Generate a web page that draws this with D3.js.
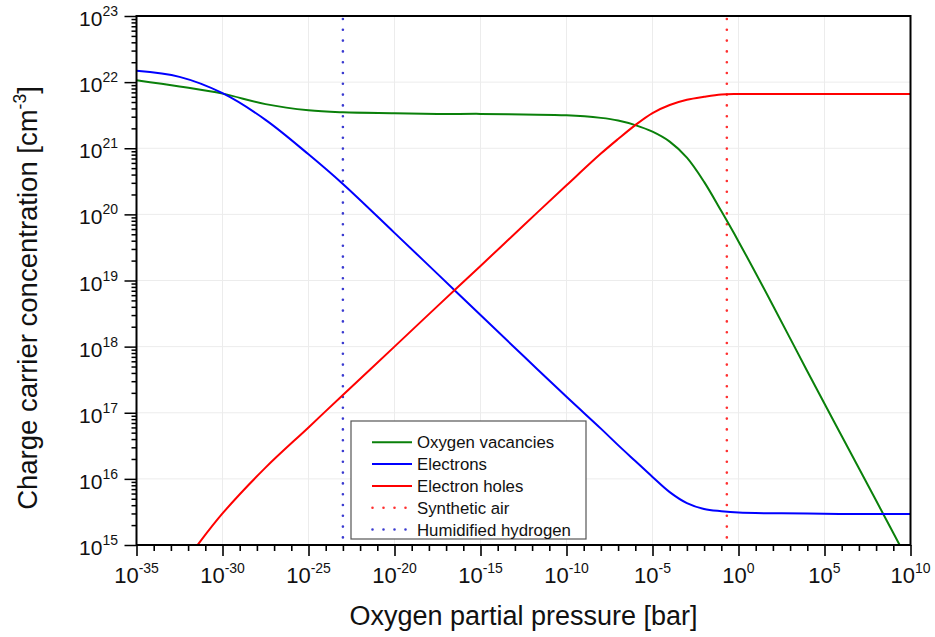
<!DOCTYPE html>
<html>
<head>
<meta charset="utf-8">
<script src="https://cdn.jsdelivr.net/npm/d3@7"></script>
<style>
  html, body { margin: 0; padding: 0; background: #fff; }
  svg { display: block; font-family: "Liberation Sans", Arial, Helvetica, sans-serif; }
</style>
</head>
<body>
<svg id="chart" width="935" height="637"></svg>
<script>
// Oxygen partial pressure grid, as base-10 exponents (bar)
const pO2Exponents = [-35, -32.5, -30, -27.5, -25, -23, -20, -17.5, -15, -12.5, -10, -8, -7, -6, -5, -4, -3, -2, -1, 0, 2, 4, 6, 8, 10];

// Defect concentrations in cm^-3 at each pO2 point
const oxygenVacancies = [1.07e22, 8.6e21, 6.7e21, 4.65e21, 3.75e21, 3.5e21, 3.39e21, 3.31e21, 3.31e21, 3.24e21, 3.16e21, 2.88e21, 2.63e21, 2.24e21, 1.78e21, 1.26e21, 7.2e20, 3.1e20, 1.12e20, 3.9e19, 4.2e18, 4.25e17, 4.45e16, 4.7e15, 4.9e14];
const electrons       = [1.48e22, 1.2e22, 6.8e21, 2.69e21, 8.1e20, 2.88e20, 5.25e19, 1.26e19, 3.0e18, 7.2e17, 1.74e17, 5.75e16, 3.24e16, 1.86e16, 1.07e16, 6.3e15, 4.3e15, 3.5e15, 3.24e15, 3.09e15, 3.02e15, 2.99e15, 2.95e15, 2.95e15, 2.95e15];
const electronHoles   = [7.9e13, 4.5e14, 3.0e15, 1.48e16, 6.0e16, 1.86e17, 1.0e18, 4.1e18, 1.66e19, 6.8e19, 2.75e20, 8.3e20, 1.38e21, 2.24e21, 3.4e21, 4.5e21, 5.4e21, 6.0e21, 6.5e21, 6.6e21, 6.6e21, 6.6e21, 6.6e21, 6.6e21, 6.6e21];

// Reference atmospheres (bar)
const syntheticAirPO2 = 0.21;
const humidHydrogenPO2 = 1e-23;

// Axis tick exponents
const xTickExponents = d3.range(-35, 11, 1);      // one tick per decade
const xLabelExponents = d3.range(-35, 11, 5);     // labelled every 5 decades
const yLabelExponents = d3.range(15, 24, 1);

const seriesInfo = [
  { name: "Oxygen vacancies", values: oxygenVacancies, color: "#0a800a" },
  { name: "Electrons",        values: electrons,       color: "#0000ff" },
  { name: "Electron holes",   values: electronHoles,   color: "#ff0000" }
];
const refLines = [
  { name: "Synthetic air",        p: syntheticAirPO2,  color: "#ff3030" },
  { name: "Humidified hydrogen",  p: humidHydrogenPO2, color: "#3a3ad0" }
];

const svg = d3.select("#chart");
const plot = { left: 136.5, right: 910.5, top: 16, bottom: 545 };

const x = d3.scaleLog().domain([1e-35, 1e10]).range([plot.left, plot.right]);
const y = d3.scaleLog().domain([1e15, 1e23]).range([plot.bottom, plot.top]);

// Grid lines
const grid = svg.append("g").attr("stroke", "#ececec").attr("stroke-width", 1);
xLabelExponents.slice(1, -1).forEach(e => {
  grid.append("line").attr("x1", x(Math.pow(10, e))).attr("x2", x(Math.pow(10, e)))
    .attr("y1", plot.top).attr("y2", plot.bottom);
});
yLabelExponents.slice(1, -1).forEach(e => {
  grid.append("line").attr("x1", plot.left).attr("x2", plot.right)
    .attr("y1", y(Math.pow(10, e))).attr("y2", y(Math.pow(10, e)));
});

// Clip for the data
svg.append("clipPath").attr("id", "plotClip").append("rect")
  .attr("x", plot.left).attr("y", plot.top)
  .attr("width", plot.right - plot.left).attr("height", plot.bottom - plot.top);

const dataG = svg.append("g").attr("clip-path", "url(#plotClip)");

// Reference pO2 lines (dotted)
refLines.forEach(r => {
  dataG.append("line")
    .attr("x1", x(r.p)).attr("x2", x(r.p))
    .attr("y1", plot.top + 3).attr("y2", plot.bottom)
    .attr("stroke", r.color).attr("stroke-width", 2.6)
    .attr("stroke-linecap", "round")
    .attr("stroke-dasharray", "0 10.8");
});

// Concentration curves
const line = d3.line()
  .x(d => x(Math.pow(10, d[0])))
  .y(d => y(d[1]))
  .curve(d3.curveCatmullRom.alpha(0.5));

seriesInfo.forEach(s => {
  const pts = pO2Exponents.map((e, i) => [e, s.values[i]]);
  dataG.append("path").datum(pts)
    .attr("d", line)
    .attr("fill", "none")
    .attr("stroke", s.color)
    .attr("stroke-width", 2);
});

// Axes
const xAxis = d3.axisBottom(x)
  .tickValues(xTickExponents.map(e => Math.pow(10, e)))
  .tickFormat("")
  .tickSizeOuter(0);
const xAxisG = svg.append("g").attr("transform", `translate(0,${plot.bottom})`).call(xAxis);
xAxisG.select(".domain").remove();
xAxisG.selectAll(".tick line")
  .attr("stroke", "#000").attr("stroke-width", 1.6)
  .attr("y2", (d) => (Math.round(Math.log10(d)) % 5 === 0 ? 11 : 6));

const yMinor = [];
d3.range(15, 23).forEach(e => { for (let k = 2; k <= 9; k++) yMinor.push(k * Math.pow(10, e)); });
const yAxisMajor = d3.axisLeft(y)
  .tickValues(yLabelExponents.map(e => Math.pow(10, e)))
  .tickFormat("").tickSize(12).tickSizeOuter(0);
const yAxisMinor = d3.axisLeft(y).tickValues(yMinor).tickFormat("").tickSize(5).tickSizeOuter(0);
[yAxisMajor, yAxisMinor].forEach(ax => {
  const g = svg.append("g").attr("transform", `translate(${plot.left},0)`).call(ax);
  g.select(".domain").remove();
  g.selectAll(".tick line").attr("stroke", "#000").attr("stroke-width", 1.5);
});

// Frame
svg.append("rect")
  .attr("x", plot.left).attr("y", plot.top)
  .attr("width", plot.right - plot.left).attr("height", plot.bottom - plot.top)
  .attr("fill", "none").attr("stroke", "#000").attr("stroke-width", 2);

// Tick labels as 10^n
function powerLabel(sel, exp) {
  sel.append("tspan").text("10");
  sel.append("tspan").attr("dy", -10).attr("font-size", 14).text(String(exp));
}
xLabelExponents.forEach(e => {
  const t = svg.append("text")
    .attr("x", x(Math.pow(10, e))).attr("y", plot.bottom + 38)
    .attr("text-anchor", "middle").attr("font-size", 22).attr("fill", "#111");
  powerLabel(t, e);
});
yLabelExponents.forEach(e => {
  const t = svg.append("text")
    .attr("x", 118).attr("y", y(Math.pow(10, e)) + 10)
    .attr("text-anchor", "end").attr("font-size", 21).attr("fill", "#111");
  powerLabel(t, e);
});

// Axis titles
svg.append("text")
  .attr("x", (plot.left + plot.right) / 2).attr("y", 625)
  .attr("text-anchor", "middle").attr("font-size", 27).attr("fill", "#111")
  .text("Oxygen partial pressure [bar]");

const yTitle = svg.append("text")
  .attr("transform", "translate(37,298) rotate(-90)")
  .attr("text-anchor", "middle").attr("font-size", 27.5).attr("fill", "#111");
yTitle.append("tspan").text("Charge carrier concentration [cm");
yTitle.append("tspan").attr("dy", -11).attr("font-size", 17.5).text("-3");
yTitle.append("tspan").attr("dy", 11).text("]");

// Legend
const legend = svg.append("g");
legend.append("rect")
  .attr("x", 351).attr("y", 421).attr("width", 235).attr("height", 118)
  .attr("fill", "#fff").attr("stroke", "#555").attr("stroke-width", 1.2);
const legendItems = seriesInfo.map(s => ({ name: s.name, color: s.color, dotted: false }))
  .concat(refLines.map(r => ({ name: r.name, color: r.color, dotted: true })));
legendItems.forEach((it, i) => {
  const cy = 442.3 + i * 21.8;
  legend.append("line")
    .attr("x1", it.dotted ? 372.5 : 372).attr("x2", 412).attr("y1", cy).attr("y2", cy)
    .attr("stroke", it.color).attr("stroke-width", it.dotted ? 2.6 : 2)
    .attr("stroke-linecap", it.dotted ? "round" : "butt")
    .attr("stroke-dasharray", it.dotted ? "0 11" : null);
  legend.append("text")
    .attr("x", 417).attr("y", cy + 6)
    .attr("font-size", 16.8).attr("fill", "#111")
    .text(it.name);
});
</script>
</body>
</html>
